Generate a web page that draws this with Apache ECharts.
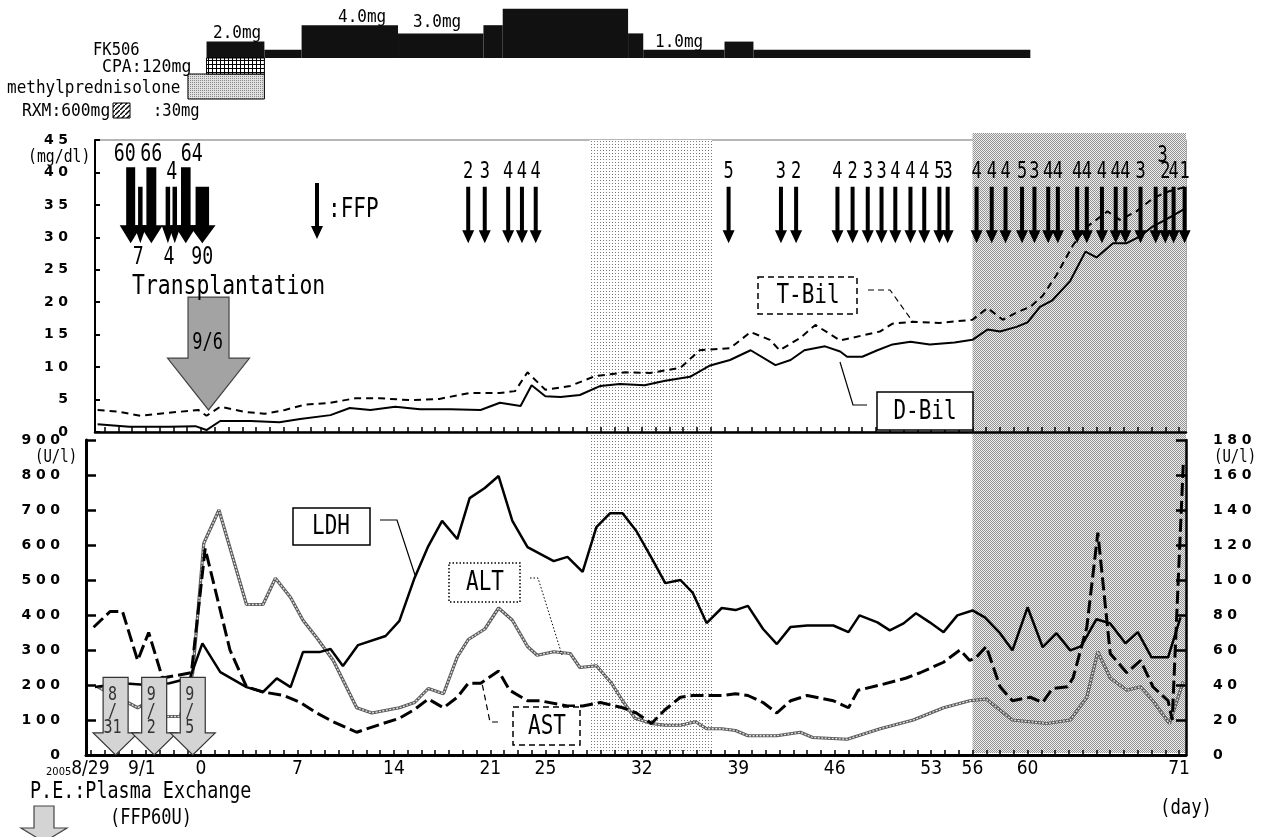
<!DOCTYPE html>
<html><head><meta charset="utf-8">
<script src="https://cdn.jsdelivr.net/npm/echarts@6.0.0/dist/echarts.min.js"></script>
<style>html,body{margin:0;padding:0;background:#fff;}#chart{width:1263px;height:837px;}</style>
</head><body><div id="chart"></div>
<script>
// ---------------- DATA ----------------
const xLabelDays  = [-8, -4.3, 0, 7, 14, 21, 25, 32, 39, 46, 53, 56, 60, 71];
const xLabelTexts = ['8/29', '9/1', '0', '7', '14', '21', '25', '32', '39', '46', '53', '56', '60', '71'];

// T-Bil / D-Bil (mg/dl), day relative to transplantation (9/6 = day 0)
const tbilDays = [-7.5,-5.9,-4.4,-2.6,-0.2,0.4,1.4,3.2,4.6,6.1,7.5,9.4,11.2,13.0,15.2,17.3,19.5,21.7,22.8,23.7,25.0,26.8,28.6,30.8,32.6,34.8,36.2,38.4,39.9,41.3,42.0,43.5,44.6,46.4,49.3,50.2,51.7,53.6,56.0,57.1,58.2,59.2,60.2,61.1,62.1,63.3,64.3,65.8,66.7,67.9,69.1,70.1,71.5];
const tbilVals = [3.4,3.1,2.5,2.9,3.4,2.5,3.9,3.1,2.8,3.4,4.2,4.5,5.2,5.2,4.9,5.1,6.0,6.0,6.3,9.2,6.5,7.1,8.6,9.2,9.1,9.9,12.6,12.9,15.4,14.2,12.6,14.5,16.5,14.1,15.5,16.7,17.0,16.8,17.3,19.1,17.3,18.4,19.3,21.0,24.2,28.8,31.6,34.0,32.7,34.0,36.0,37.0,37.8];
const dbilDays = [-7.5,-5.2,-2.3,-0.4,0.4,1.4,3.6,5.7,7.2,9.4,10.8,12.3,14.1,15.9,18.1,20.3,21.7,23.2,24.0,25.0,26.1,27.5,29.0,30.4,32.2,33.7,35.5,36.9,38.4,39.9,41.7,42.8,43.8,45.3,46.4,46.9,48.0,49.1,50.2,51.5,52.9,54.7,56.0,57.1,58.0,59.2,60.0,60.9,61.8,63.1,64.2,65.0,66.2,67.2,68.2,69.1,70.0,71.5];
const dbilVals = [1.2,0.8,0.8,0.9,0.3,1.7,1.7,1.5,2.0,2.6,3.7,3.4,3.9,3.5,3.5,3.4,4.5,4.0,7.2,5.5,5.4,5.7,7.1,7.4,7.2,7.9,8.5,10.2,11.1,12.6,10.3,11.1,12.6,13.2,12.4,11.6,11.6,12.6,13.5,13.9,13.5,13.8,14.2,15.8,15.5,16.2,16.9,19.3,20.3,23.3,27.8,26.9,29.1,29.1,30.2,31.7,32.7,34.5];

// LDH (U/l, left axis)
const ldhDays = [-7.7,-5.7,-3.9,-2.3,-0.8,0.1,1.4,3.3,4.5,5.5,6.5,7.4,8.6,9.4,10.3,11.4,13.4,14.4,15.5,16.5,17.5,18.6,19.5,20.6,21.6,22.6,23.7,25.6,26.6,27.7,28.7,29.7,30.6,31.6,32.7,33.7,34.8,35.7,36.7,37.8,38.8,39.7,40.8,41.8,42.8,44.0,45.9,47.0,47.8,49.1,50.0,51.0,51.9,52.9,53.9,54.9,56.0,56.9,58.0,58.9,60.0,61.1,62.1,63.1,63.9,65.0,66.0,67.1,68.0,69.0,70.2,71.1];
const ldhVals = [194,205,200,205,220,319,237,194,180,219,194,294,294,303,254,314,340,383,506,597,669,617,734,763,797,669,594,554,566,523,651,691,691,640,563,491,500,463,377,420,414,426,360,317,366,370,370,351,399,379,356,376,405,379,351,399,413,393,348,299,422,308,348,299,311,388,376,319,351,279,279,393];
// AST (U/l, right axis)
const astDays = [-7.8,-6.6,-5.7,-4.6,-3.8,-2.8,-0.7,0.3,2.1,3.3,4.5,6.0,7.2,8.4,9.6,11.3,13.2,14.4,15.5,16.5,17.6,18.6,19.4,20.3,21.6,22.4,23.7,24.6,26.6,27.7,29.0,30.6,31.6,32.7,33.7,34.8,35.7,36.7,37.8,38.8,39.7,40.8,41.8,42.8,44.0,45.9,47.0,47.7,49.3,51.2,52.2,53.9,55.1,55.8,56.3,57.0,58.0,58.9,60.2,61.1,61.8,62.9,63.3,64.3,65.1,66.0,67.2,68.2,69.1,70.2,70.5,71.3];
const astVals = [73,82,82,54,70,44,47,118,60,39,36,34,30,24,19,13,18,21,26,32,27,33,41,41,48,37,31,31,28,28,30,27,24,18,26,33,34,34,34,35,34,30,24,31,34,31,27,37,40,44,47,53,60,54,56,62,39,31,33,30,38,39,44,73,127,58,47,54,39,31,20,166];
// ALT (U/l, right axis)
const altDays = [-7.5,-4.6,-3.9,-2.5,-1.5,-0.6,0.2,1.3,3.3,4.5,5.4,6.5,7.4,8.4,9.6,11.3,12.4,14.4,15.5,16.5,17.6,18.6,19.4,20.6,21.6,22.6,23.7,24.4,25.6,26.8,27.5,28.7,29.8,30.6,31.5,32.7,33.7,34.8,35.9,36.7,37.8,38.8,39.7,40.8,41.8,43.5,44.4,46.9,49.3,51.7,53.9,55.8,57.0,58.9,61.4,63.1,64.3,65.1,66.0,67.2,68.2,69.1,70.3,71.3];
const altVals = [39,27,30,22,22,47,121,140,86,86,101,90,77,67,54,27,24,27,30,38,35,56,66,72,84,77,62,57,59,58,50,51,41,31,21,18,17,17,19,15,15,14,11,11,11,13,10,9,15,20,27,31,32,20,18,20,33,59,44,37,39,31,18,42];

// FFP transfusions (units)
const ffpDays  = [19.4,20.6,22.3,23.3,24.3,38.3,42.1,43.2,46.2,47.3,48.4,49.4,50.4,51.5,52.5,53.6,54.2,56.3,57.4,58.4,59.6,60.5,61.5,62.2,63.6,64.3,65.4,66.4,67.1,68.2,69.3,70.0,70.6,71.4];
const ffpUnits = [2,3,4,4,4,5,3,2,4,2,3,3,4,4,4,5,3,4,4,4,5,3,4,4,4,4,4,4,4,3,3,2,4,1];
const bigFfpDays  = [-5.1,-4.4,-3.6,-2.4,-1.9,-1.1,0.1];
const bigFfpUnits = [60,7,66,4,4,64,90];

// Plasma exchange
const peDays   = [-6.2,-3.4,-0.6];
const peLabels = [['8','/','31'],['9','/','2'],['9','/','5']];
const transplantDay = [0.55];

// Shaded periods
const shadeStart = [28.2, 56.0];
const shadeEnd   = [37.1, 71.5];

// FK506 dosing (mg)
const fkStart = [0.4, 4.6, 7.3, 14.3, 20.5, 21.9, 31.0, 32.1, 38.0, 40.1];
const fkEnd   = [4.6, 7.3, 14.3, 20.5, 21.9, 31.0, 32.1, 38.0, 40.1, 60.2];
const fkDose  = [2, 1, 4, 3, 4, 6, 3, 1, 2, 1];
const cpaDays  = [0.4, 4.6];
const mpslDays = [-0.95, 4.6];

// ---------------- STYLE / LAYOUT ----------------
const XMIN = -8.35, XMAX = 71.5, XMIN_UP = -7.69;
const NARROW = "'DejaVu Sans Mono','Liberation Mono',monospace";
const AXNARROW = "'Liberation Sans Narrow','DejaVu Sans Condensed','DejaVu Sans Mono',sans-serif";
const font = (sz, bold) => (bold ? 'bold ' : '') + sz + 'px ' + NARROW;
const zip = (a, b) => a.map((v, i) => [v, b[i]]);
const dayTicks = Array.from({length: 80}, (_, i) => i - 8);

function pat(w, h, draw) {
  const c = document.createElement('canvas'); c.width = w; c.height = h;
  const g = c.getContext('2d'); draw(g); return {image: c, repeat: 'repeat'};
}
const lightDots = pat(3, 3, g => { g.fillStyle = '#fff'; g.fillRect(0,0,3,3); g.fillStyle = '#7a7a7a'; g.fillRect(0,0,1,1); });
const darkDots  = pat(2, 2, g => { g.fillStyle = '#eeeeee'; g.fillRect(0,0,2,2); g.fillStyle = '#939393'; g.fillRect(0,0,1,1); g.fillRect(1,1,1,1); });
const gridPat   = pat(4, 4, g => { g.fillStyle = '#fff'; g.fillRect(0,0,4,4); g.fillStyle = '#000'; g.fillRect(0,0,4,1); g.fillRect(0,0,1,4); });
const stipple   = pat(2, 2, g => { g.fillStyle = '#e0e0e0'; g.fillRect(0,0,2,2); g.fillStyle = '#888'; g.fillRect(0,0,1,1); });
const hatch     = pat(5, 5, g => { g.fillStyle = '#fff'; g.fillRect(0,0,5,5); g.strokeStyle = '#000'; g.lineWidth = 1.4; g.beginPath(); g.moveTo(-1,6); g.lineTo(6,-1); g.stroke(); });

const shadeTopPx = [140, 133];
const rowsPx = [[74, 99], [58, 74]];
const ffpRaised = [30];
const bigLabelAbove = [true, false, true, false, true, true, false];
const bigLabelDx = [-6, -2, 0, 1, -3, 6, 0];

function txt(x, y, text, sz, sy, align, fill) {
  return {type: 'text', x: x, y: y, scaleY: sy || 1.3,
    style: {text: text, font: font(sz), fill: fill || '#000', align: align || 'left', textAlign: align || 'left',
            verticalAlign: 'middle', textVerticalAlign: 'middle'}};
}
function T(x, y, text, sz, sy, align) { const t = txt(x, y, text, sz, sy, align); t.z = 60; return t; }
function box(x1, y1, x2, y2, dash) {
  return {type: 'rect', z: 55, shape: {x: x1, y: y1, width: x2 - x1, height: y2 - y1},
          style: {fill: '#fff', stroke: '#000', lineWidth: 1.5, lineDash: dash || null}};
}
function poly(points, dash, w) {
  return {type: 'polyline', z: 55, shape: {points: points},
          style: {stroke: '#000', lineWidth: w || 1.2, lineDash: dash || null, fill: null}};
}

function renderShade(params, api) {
  const i = params.dataIndex;
  const a = api.coord([api.value(0), shadeTopPx[i]]);
  const b = api.coord([api.value(1), 753]);
  return {type: 'rect', shape: {x: a[0], y: a[1], width: b[0] - a[0], height: b[1] - a[1]},
          style: {fill: i === 0 ? lightDots : darkDots}};
}
function renderFk(params, api) {
  const a = api.coord([api.value(0), api.value(2)]);
  const b = api.coord([api.value(1), 0]);
  return {type: 'rect', shape: {x: a[0], y: a[1], width: b[0] - a[0], height: b[1] - a[1]}, style: {fill: '#111'}};
}
function renderRow(params, api) {
  const r = params.dataIndex;
  const a = api.coord([api.value(0), rowsPx[r][0]]);
  const b = api.coord([api.value(1), rowsPx[r][1]]);
  return {type: 'rect', shape: {x: a[0], y: a[1], width: b[0] - a[0], height: b[1] - a[1]},
          style: {fill: r === 1 ? gridPat : stipple, stroke: '#000', lineWidth: 1}};
}
function arrowShape(x, yTop, yTip, sw, hw, hh) {
  return [[x - sw/2, yTop], [x + sw/2, yTop], [x + sw/2, yTip - hh], [x + hw/2, yTip - hh],
          [x, yTip], [x - hw/2, yTip - hh], [x - sw/2, yTip - hh]];
}
function renderFfp(params, api) {
  const i = params.dataIndex, d = api.value(0), u = api.value(1);
  const top = api.coord([d, 37.8]), tip = api.coord([d, 29.1]);
  const x = top[0];
  const raised = ffpRaised.indexOf(i) >= 0;
  const lp = api.coord([d, raised ? 42.6 : 40.1]);
  return {type: 'group', children: [
    {type: 'polygon', shape: {points: arrowShape(x, top[1], tip[1], 4, 12, 13)}, style: {fill: '#000'}},
    txt(x + (raised ? 7 : 0), lp[1], String(u), 17, 1.4, 'center')
  ]};
}
function renderBigFfp(params, api) {
  const i = params.dataIndex, d = api.value(0), u = api.value(1);
  const above = bigLabelAbove[i];
  const big = u > 10;
  const tall = above && big;
  const top = api.coord([d, tall ? 40.8 : 37.8]), tip = api.coord([d, 29.1]);
  const x = top[0];
  const sw = big ? u * 0.15 : 4.5;
  const hw = sw + (big ? 13 : 8);
  const lp = api.coord([d, above ? (big ? 42.7 : 40.0) : 26.8]);
  return {type: 'group', children: [
    {type: 'polygon', shape: {points: arrowShape(x, top[1], tip[1], sw, hw, 18)}, style: {fill: '#000'}},
    txt(x + bigLabelDx[i], lp[1], String(u), 18.3, 1.35, 'center')
  ]};
}
function renderTx(params, api) {
  const d = api.value(0);
  const top = api.coord([d, 20.8]), mid = api.coord([d, 11.4]), tip = api.coord([d, 3.4]);
  const x = top[0];
  const pts = [[x-20.5, top[1]], [x+20.5, top[1]], [x+20.5, mid[1]], [x+41, mid[1]], [x, tip[1]], [x-41, mid[1]], [x-20.5, mid[1]]];
  const tp = api.coord([d, 13.7]);
  return {type: 'group', children: [
    {type: 'polygon', shape: {points: pts}, style: {fill: '#a3a3a3', stroke: '#444', lineWidth: 1.2}},
    txt(x - 1, tp[1], '9/6', 17, 1.3, 'center')
  ]};
}
function renderPE(params, api) {
  const i = params.dataIndex, d = api.value(0);
  const top = api.coord([d, 222]), mid = api.coord([d, 63]), tip = api.coord([d, 0]);
  const x = top[0], bw = 12.5, hw = 22.5;
  const pts = [[x-bw, top[1]], [x+bw, top[1]], [x+bw, mid[1]], [x+hw, mid[1]], [x, tip[1]], [x-hw, mid[1]], [x-bw, mid[1]]];
  const children = [{type: 'polygon', shape: {points: pts}, style: {fill: '#d4d4d4', stroke: '#333', lineWidth: 1.2}}];
  const ys = [171, 123, 77];
  peLabels[i].forEach((t, k) => {
    const p = api.coord([d, ys[k]]);
    children.push(txt(x - 3, p[1], t, 15, 1.3, 'center', '#333'));
  });
  return {type: 'group', children: children};
}

const axisBold = {fontFamily: "'DejaVu Sans',sans-serif", fontWeight: 'bold', color: '#000'};
const spaced = v => String(v).split('').join('\u2004');
const noSplit = {show: false};

const option = {
  animation: false,
  backgroundColor: '#fff',
  grid: [
    {left: 86, right: 77, top: 0, height: 58},
    {left: 95, right: 77, top: 140, height: 292, show: true, borderColor: '#6e6e6e', borderWidth: 1.2, backgroundColor: 'transparent'},
    {left: 86, right: 77, top: 440, height: 315},
    {left: 86, right: 77, top: 0, height: 837}
  ],
  xAxis: [
    {gridIndex: 0, type: 'value', min: XMIN, max: XMAX, show: false},
    {gridIndex: 1, type: 'value', min: XMIN_UP, max: XMAX, z: 6,
     axisLine: {onZero: false, lineStyle: {color: '#000', width: 2.5}},
     axisTick: {inside: true, length: 5, customValues: dayTicks, lineStyle: {color: '#000', width: 1.5}},
     axisLabel: {show: false}, splitLine: noSplit},
    {gridIndex: 2, type: 'value', min: XMIN, max: XMAX, z: 6,
     axisLine: {onZero: false, lineStyle: {color: '#000', width: 3}},
     axisTick: {inside: true, length: 5, customValues: dayTicks, lineStyle: {color: '#000', width: 1.5}},
     axisLabel: {customValues: xLabelDays, margin: 5, color: '#000', fontFamily: AXNARROW, fontSize: 19,
       hideOverlap: false, showMinLabel: true, showMaxLabel: true,
       formatter: v => { const i = xLabelDays.indexOf(v); if (i < 0) return ''; return i === 0 ? '{s|2005}{d|' + xLabelTexts[i] + '}' : xLabelTexts[i]; },
       rich: {s: {fontSize: 11, fontFamily: AXNARROW, color: '#000', padding: [6, 0, 0, 0]},
              d: {fontSize: 19, fontFamily: AXNARROW, color: '#000', padding: [0, 26, 0, 0]}}},
     splitLine: noSplit},
    {gridIndex: 3, type: 'value', min: XMIN, max: XMAX, show: false}
  ],
  yAxis: [
    {gridIndex: 0, type: 'value', min: 0, max: 7.07, show: false},
    {gridIndex: 1, type: 'value', min: 0, max: 45, interval: 5, z: 6,
     axisLine: {show: true, onZero: false, lineStyle: {color: '#000', width: 2}},
     axisTick: {show: true, inside: true, length: 5, lineStyle: {color: '#000', width: 2}},
     axisLabel: Object.assign({margin: 27, fontSize: 14, formatter: spaced}, axisBold), splitLine: noSplit},
    {gridIndex: 2, type: 'value', min: 0, max: 900, interval: 100, z: 6,
     axisLine: {show: true, onZero: false, lineStyle: {color: '#000', width: 3}},
     axisTick: {show: true, inside: true, length: 10, lineStyle: {color: '#000', width: 2.5}},
     axisLabel: Object.assign({margin: 26, fontSize: 14, formatter: spaced}, axisBold), splitLine: noSplit},
    {gridIndex: 2, type: 'value', position: 'right', min: 0, max: 180, interval: 20, z: 6,
     axisLine: {show: true, onZero: false, lineStyle: {color: '#000', width: 2.5}},
     axisTick: {show: true, inside: true, length: 10, lineStyle: {color: '#000', width: 2.5}},
     axisLabel: Object.assign({margin: 27, fontSize: 14, formatter: spaced}, axisBold), splitLine: noSplit},
    {gridIndex: 3, type: 'value', min: 0, max: 837, inverse: true, show: false}
  ],
  series: [
    {type: 'custom', name: 'shade', xAxisIndex: 3, yAxisIndex: 4, z: 1, silent: true,
     data: zip(shadeStart, shadeEnd), renderItem: renderShade},
    {type: 'custom', name: 'FK506', xAxisIndex: 0, yAxisIndex: 0, z: 3, silent: true,
     data: fkStart.map((s, i) => [s, fkEnd[i], fkDose[i]]), renderItem: renderFk},
    {type: 'custom', name: 'CPA/mPSL', xAxisIndex: 3, yAxisIndex: 4, z: 3, silent: true,
     data: [mpslDays, cpaDays], renderItem: renderRow},
    {type: 'line', name: 'T-Bil', xAxisIndex: 1, yAxisIndex: 1, z: 4, symbol: 'none',
     data: zip(tbilDays, tbilVals), lineStyle: {color: '#000', width: 2, type: [7, 5]}},
    {type: 'line', name: 'D-Bil', xAxisIndex: 1, yAxisIndex: 1, z: 4, symbol: 'none',
     data: zip(dbilDays, dbilVals), lineStyle: {color: '#000', width: 2}},
    {type: 'custom', name: 'FFP', xAxisIndex: 1, yAxisIndex: 1, z: 5, silent: true,
     data: zip(ffpDays, ffpUnits), renderItem: renderFfp},
    {type: 'custom', name: 'FFP big', xAxisIndex: 1, yAxisIndex: 1, z: 5, silent: true,
     data: zip(bigFfpDays, bigFfpUnits), renderItem: renderBigFfp},
    {type: 'custom', name: 'Transplantation', xAxisIndex: 1, yAxisIndex: 1, z: 7, silent: true,
     data: transplantDay.map(d => [d]), renderItem: renderTx},
    {type: 'line', name: 'ALT', xAxisIndex: 2, yAxisIndex: 3, z: 4, symbol: 'none',
     data: zip(altDays, altVals), lineStyle: {color: '#5a5a5a', width: 3.2}},
    {type: 'line', name: 'ALT-tex', xAxisIndex: 2, yAxisIndex: 3, z: 4, symbol: 'none',
     data: zip(altDays, altVals), lineStyle: {color: '#e4e4e4', width: 1.3, type: [2, 1.5]}},
    {type: 'line', name: 'AST', xAxisIndex: 2, yAxisIndex: 3, z: 4, symbol: 'none',
     data: zip(astDays, astVals), lineStyle: {color: '#000', width: 3, type: [13, 5]}},
    {type: 'line', name: 'LDH', xAxisIndex: 2, yAxisIndex: 2, z: 4, symbol: 'none',
     data: zip(ldhDays, ldhVals), lineStyle: {color: '#000', width: 2.5}},
    {type: 'custom', name: 'P.E.', xAxisIndex: 2, yAxisIndex: 2, z: 7, silent: true,
     data: peDays.map(d => [d]), renderItem: renderPE}
  ],
  graphic: [
    T(93, 50, 'FK506', 15.5, 1.12),
    T(102, 67, 'CPA:120mg', 16.5, 1.12),
    T(7, 88, 'methylprednisolone', 16, 1.15),
    T(22, 111, 'RXM:600mg', 16.3, 1.12),
    {type: 'rect', z: 55, shape: {x: 113, y: 103, width: 17, height: 15}, style: {fill: hatch, stroke: '#000', lineWidth: 1}},
    T(153, 111, ':30mg', 15.5, 1.12),
    T(213, 33, '2.0mg', 16, 1.12),
    T(338, 17, '4.0mg', 16, 1.12),
    T(413, 22, '3.0mg', 16, 1.12),
    T(655, 42, '1.0mg', 16, 1.12),
    T(28, 157, '(mg/dl)', 14.8, 1.2),
    T(35, 458, '(U/l)', 14, 1.2),
    T(1214, 458, '(U/l)', 14, 1.2),
    T(132, 287, 'Transplantation', 21.4, 1.28),
    {type: 'polygon', z: 55, shape: {points: arrowShape(317, 183, 239, 4, 12, 13)}, style: {fill: '#000'}},
    T(328, 210, ':FFP', 21, 1.3),
    box(293, 508, 370, 545), T(331, 527, 'LDH', 21, 1.3, 'center'), poly([[380, 520], [397, 520], [415, 575]]),
    box(449, 563, 520, 602, [1.5, 2]), T(485, 583, 'ALT', 21, 1.3, 'center'), poly([[530, 578], [538, 578], [562, 655]], [1.5, 2], 1),
    box(513, 707, 580, 745, [6, 4]), T(547, 727, 'AST', 21, 1.3, 'center'), poly([[498, 722], [490, 722], [482, 683]], [6, 4], 1.2),
    box(758, 277, 857, 314, [6, 4]), T(808, 296, 'T-Bil', 21, 1.3, 'center'), poly([[868, 290], [890, 290], [913, 322]], [6, 4], 1.2),
    box(877, 392, 973, 430), T(925, 412, 'D-Bil', 21, 1.3, 'center'), poly([[840, 362], [853, 405], [867, 405]], null, 1.2),
    T(30, 792, 'P.E.:Plasma Exchange', 18.4, 1.27),
    T(110, 818, '(FFP60U)', 17, 1.27),
    {type: 'polygon', z: 55, shape: {points: [[34, 806], [54, 806], [54, 828], [67, 828], [44, 842], [21, 828], [34, 828]]},
     style: {fill: '#d4d4d4', stroke: '#444', lineWidth: 1.2}},
    T(1160, 808, '(day)', 17.3, 1.27)
  ]
};

const chart = echarts.init(document.getElementById('chart'), null, {renderer: 'canvas'});
chart.setOption(option);
</script></body></html>
